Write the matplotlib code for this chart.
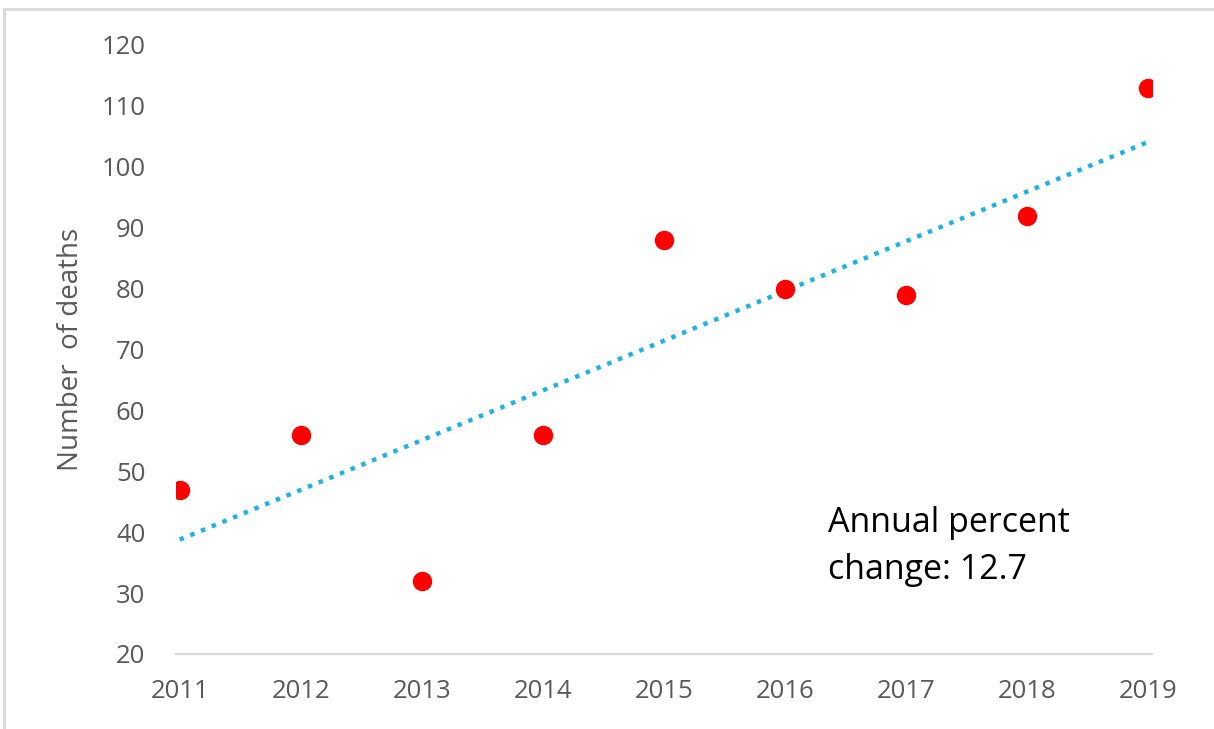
"""
Annual deaths 2011-2019 with linear trend
"""

import numpy as np
import matplotlib.pyplot as plt
from matplotlib.lines import Line2D

plt.rcParams['font.family'] = ['Open Sans', 'DejaVu Sans']

# Dados
anos = [2011, 2012, 2013, 2014, 2015, 2016, 2017, 2018, 2019]
obitos = [47, 56, 32, 56, 88, 80, 79, 92, 113]
yticks = [20, 30, 40, 50, 60, 70, 80, 90, 100, 110, 120]
texto_apc = "Annual percent\nchange: 12.7"

cinza = '#595959'

fig = plt.figure(figsize=(12.14, 7.29), dpi=100)
ax = fig.add_axes([0.145, 0.1029, 0.804, 0.8354])

# Tendência linear
coef = np.polyfit(anos, obitos, 1)
ax.plot(anos, np.polyval(coef, anos), color='#1BB2EA', linewidth=3.2,
        linestyle=(0, (1, 1.6)), zorder=2)

# Pontos
ax.plot(anos, obitos, 'o', color='#FF0000', markersize=13, zorder=3)

ax.set_xlim(2011 - 0.03, 2019 + 0.03)
ax.set_ylim(20, 120)
ax.set_xticks(anos)
ax.set_yticks(yticks)
ax.tick_params(axis='both', length=0, labelsize=18.5, labelcolor=cinza)
ax.tick_params(axis='x', pad=18)
ax.tick_params(axis='y', pad=22)

for lado in ['top', 'right', 'left']:
    ax.spines[lado].set_visible(False)
ax.spines['bottom'].set_color('#D9D9D9')
ax.spines['bottom'].set_linewidth(1.6)

ax.set_ylabel('Number  of deaths', fontsize=20, color=cinza, labelpad=12)

ax.text(0.668, 0.177, texto_apc, transform=ax.transAxes, fontsize=24.5,
        color='black', va='center', ha='left', linespacing=1.5)

# Moldura (esquerda e topo)
fig.add_artist(Line2D([4 / 1214, 4 / 1214], [0, 1 - 9 / 729],
                      transform=fig.transFigure, color='#D9D9D9', linewidth=2))
fig.add_artist(Line2D([4 / 1214, 1], [1 - 9 / 729, 1 - 9 / 729],
                      transform=fig.transFigure, color='#D9D9D9', linewidth=2))

plt.savefig('out.png', dpi=100)
plt.close()
